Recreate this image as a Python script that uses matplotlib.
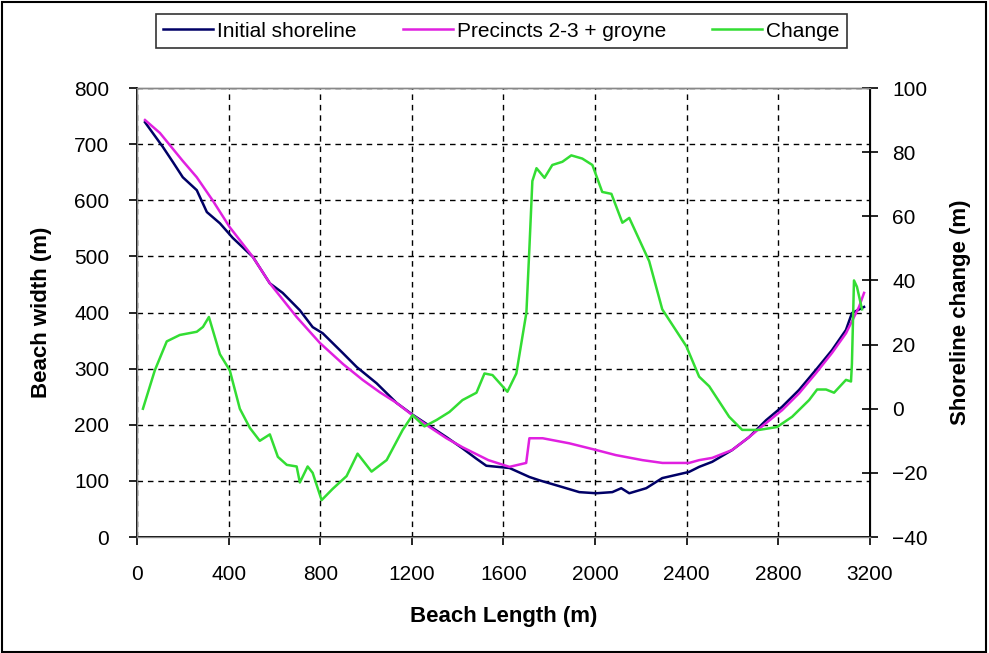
import matplotlib.pyplot as plt
from matplotlib.patches import Rectangle

plt.rcParams['font.family'] = ['Liberation Sans', 'DejaVu Sans']

# Initial shoreline (beach width, m)
init_x = [35, 113, 157, 200, 261, 305, 362, 418, 506, 580, 636, 711, 767, 811, 898,
          959, 1046, 1133, 1203, 1277, 1351, 1421, 1480, 1525, 1626, 1713, 1757, 1857,
          1931, 2005, 2075, 2114, 2149, 2223, 2293, 2410, 2454, 2511, 2598, 2672, 2746,
          2816, 2890, 2964, 3034, 3095, 3121, 3174]
init_y = [739, 695, 668, 641, 618, 579, 559, 533, 499, 452, 435, 404, 374, 363, 328,
          303, 274, 239, 218, 198, 178, 158, 140, 127, 123, 107, 101, 89,
          80, 78, 80, 87, 78, 87, 105, 116, 125, 134, 155, 178, 208,
          232, 262, 298, 333, 369, 399, 410]

# Precincts 2-3 + groyne (beach width, m)
prec_x = [35, 100, 200, 261, 330, 405, 506, 580, 697, 798, 900, 985, 1060, 1133, 1203,
          1277, 1351, 1421, 1534, 1626, 1699, 1713, 1771, 1887, 2005, 2090, 2207, 2294,
          2410, 2454, 2511, 2598, 2672, 2746, 2816, 2890, 2964, 3034, 3095, 3152, 3174]
prec_y = [743, 720, 670, 641, 600, 552, 499, 452, 392, 346, 308, 280, 258, 239, 217,
          196, 176, 160, 137, 125, 132, 176, 176, 167, 155, 146, 137, 132,
          132, 137, 141, 155, 178, 203, 226, 256, 292, 328, 363, 410, 435]

# Shoreline change (m)
chg_x = [26, 78, 130, 187, 261, 288, 314, 362, 405, 449, 493, 536, 580, 615, 654, 697,
         711, 745, 767, 806, 854, 915, 963, 1024, 1090, 1160, 1203, 1255, 1308, 1364,
         1421, 1482, 1517, 1552, 1617, 1656, 1700, 1713, 1726, 1744, 1779, 1813, 1857,
         1896, 1944, 1988, 2031, 2071, 2119, 2149, 2236, 2293, 2398, 2454, 2498, 2585,
         2642, 2716, 2794, 2860, 2934, 2969, 3008, 3043, 3095, 3117, 3121, 3130, 3143, 3165]
chg_y = [0, 12, 21, 23, 24, 25.5, 28.6, 17, 12, 0, -6, -10, -8, -15, -17.5, -18,
         -23, -18, -20, -28.5, -25, -21, -14, -19.6, -16, -6.6, -2, -5.5, -3.5, -1,
         2.7, 5, 11, 10.5, 5.3, 11, 30, 50, 71, 75, 72, 76, 77,
         79, 78, 76, 67.6, 67, 58, 59.5, 46, 31, 19.5, 10, 7, -2.5,
         -6.6, -6.6, -5.7, -2.5, 2.7, 6, 6, 5, 9, 8.5, 14, 40, 38, 31]

x_ticks = list(range(0, 3201, 400))
left_ticks = list(range(0, 801, 100))
right_ticks = list(range(-40, 101, 20))

fig = plt.figure(figsize=(9.89, 6.53), dpi=100)
ax = fig.add_axes([0.1385, 0.1776, 0.7412, 0.6876])
ax2 = ax.twinx()

l1, = ax.plot(init_x, init_y, color='#000066', lw=1.8, label='Initial shoreline')
l2, = ax.plot(prec_x, prec_y, color='#E020E0', lw=1.8, label='Precincts 2-3 + groyne')
l3, = ax2.plot(chg_x, chg_y, color='#33DD33', lw=1.8, label='Change')

ax.set_xlim(0, 3200)
ax.set_ylim(0, 800)
ax2.set_ylim(-40, 100)
ax.set_xticks(x_ticks)
ax.set_yticks(left_ticks)
ax2.set_yticks(right_ticks)

ax.grid(True, color='black', linestyle=(0, (4, 3.5)), lw=1.0)
ax.set_axisbelow(True)

for a in (ax, ax2):
    for s in a.spines.values():
        s.set_color('#888888')
        s.set_linewidth(1)
ax.spines['left'].set_color('black')
ax.spines['bottom'].set_color('black')
ax2.spines['right'].set_color('black')
ax.spines['left'].set_linewidth(1.4)
ax.spines['bottom'].set_linewidth(1.4)
ax2.spines['right'].set_linewidth(1.4)
ax.tick_params(axis='x', labelsize=15, direction='out', length=6, width=1.2, pad=14)
ax.tick_params(axis='y', labelsize=15, direction='out', length=6, width=1.2, pad=14)
ax2.tick_params(axis='y', labelsize=15, direction='inout', length=12, width=1.2, pad=10)

ax.set_xlabel('Beach Length (m)', fontsize=16, fontweight='bold', labelpad=16)
ax.set_ylabel('Beach width (m)', fontsize=16, fontweight='bold', labelpad=16)
ax2.set_ylabel('Shoreline change (m)', fontsize=16, fontweight='bold', labelpad=16)

leg = fig.legend(handles=[l1, l2, l3], loc='center', bbox_to_anchor=(0.507, 0.9525),
                 ncol=3, fontsize=15, frameon=True, fancybox=False, handlelength=2.4,
                 handletextpad=0.2, columnspacing=2.2, borderpad=0.35)
leg.get_frame().set_edgecolor('black')
leg.get_frame().set_linewidth(1.2)

fig.patches.append(Rectangle((0.002, 0.002), 0.995, 0.995, transform=fig.transFigure,
                             fill=False, edgecolor='black', lw=1.5))

fig.savefig('out.png', dpi=100)
